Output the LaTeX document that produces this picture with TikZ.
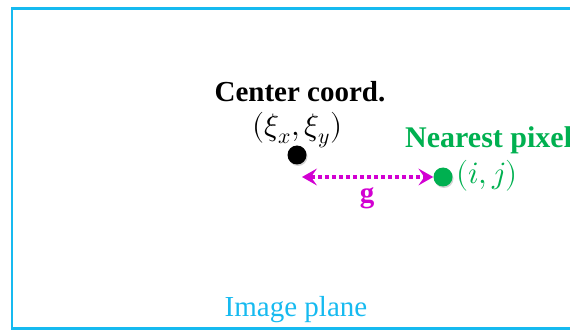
\documentclass[tikz,border=0pt]{standalone}
\usepackage{fontspec}
\usepackage{unicode-math}
\setmainfont{Liberation Serif}
\setmathfont{Latin Modern Math}
\usetikzlibrary{arrows.meta,shadows}
\definecolor{frameblue}{RGB}{22,186,240}
\definecolor{pixgreen}{RGB}{0,176,80}
\definecolor{arrmag}{RGB}{210,0,210}
\tikzset{
  lbl/.style={font=\fontsize{29}{30}\selectfont, inner sep=0pt, anchor=base},
  dot/.style={circle, inner sep=0pt, minimum size=19pt,
     drop shadow={opacity=0.35, shadow xshift=1pt, shadow yshift=-1.5pt}},
  gap/.style={arrmag, line width=3.5pt, dash pattern=on 3.5pt off 3.5pt,
     {Stealth[length=15pt,width=17pt,inset=6pt,line width=0pt]}-{Stealth[length=15pt,width=17pt,inset=6pt,line width=0pt]}}
}
\begin{document}
\begin{tikzpicture}[x=1pt,y=-1pt]
\useasboundingbox (0,0) rectangle (570,331);
\clip (0,0) rectangle (570,331);
\draw[frameblue, line width=2.5pt] (12,8.5) rectangle (600,328.5);
\node[lbl, font=\fontsize{29}{30}\selectfont\bfseries] (cc) at (300,102) {Center coord.};
\node[inner sep=0pt, font=\fontsize{31}{32}\selectfont] (xi) at (297.5,130) {$(\xi_x,\xi_y)$};
\node[dot, fill=black] (c) at (297,155) {};
\node[lbl, anchor=base west, font=\fontsize{30}{31}\selectfont\bfseries, text=pixgreen] (np) at (405,148) {Nearest pixel};
\node[dot, fill=pixgreen] (p) at (443,177) {};
\node[inner sep=0pt, anchor=west, text=pixgreen, font=\fontsize{31}{32}\selectfont] (ij) at (456,176) {$(i,j)$};
\coordinate (lt) at (302,177);
\draw[gap] (lt) -- (p.west);
\node[lbl, font=\fontsize{29}{30}\selectfont\bfseries, text=arrmag] (g) at (367,203) {g};
\node[lbl, text=frameblue] (ip) at (296,316) {Image plane};
\end{tikzpicture}
\end{document}
